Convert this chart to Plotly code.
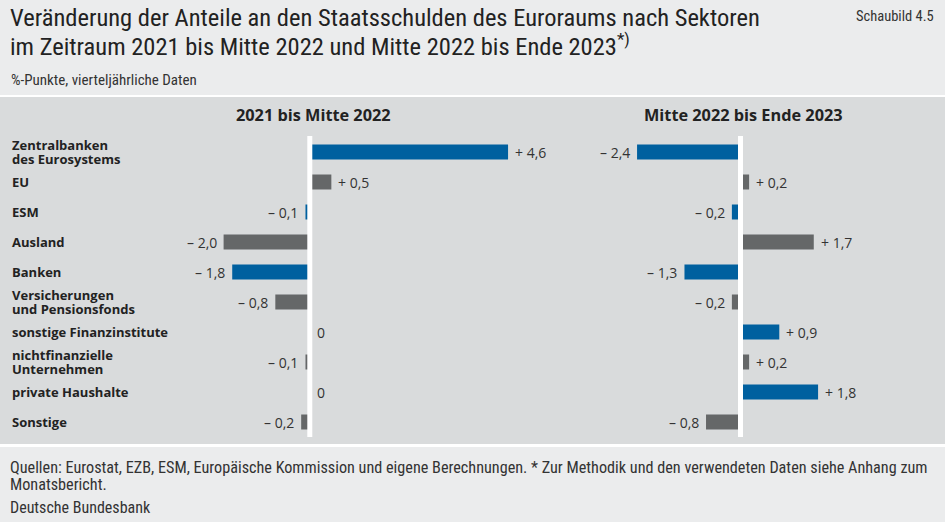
import plotly.graph_objects as go

# ---------------- data ----------------
categories = [
    "Zentralbanken<br>des Eurosystems",
    "EU",
    "ESM",
    "Ausland",
    "Banken",
    "Versicherungen<br>und Pensionsfonds",
    "sonstige Finanzinstitute",
    "nichtfinanzielle<br>Unternehmen",
    "private Haushalte",
    "Sonstige",
]
period1_values = [4.6, 0.5, -0.1, -2.0, -1.8, -0.8, 0.0, -0.1, 0.0, -0.2]
period2_values = [-2.4, 0.2, -0.2, 1.7, -1.3, -0.2, 0.9, 0.2, 1.8, -0.8]
panel_titles = ["2021 bis Mitte 2022", "Mitte 2022 bis Ende 2023"]

title_lines = ["Veränderung der Anteile an den Staatsschulden des Euroraums nach Sektoren",
               "im Zeitraum 2021 bis Mitte 2022 und Mitte 2022 bis Ende 2023<sup>*)</sup>"]
subtitle_text = "%-Punkte, vierteljährliche Daten"
figure_no = "Schaubild 4.5"
source_lines = ["Quellen: Eurostat, EZB, ESM, Europäische Kommission und eigene Berechnungen. "
                "* Zur Methodik und den verwendeten Daten siehe Anhang zum",
                "Monatsbericht."]
publisher = "Deutsche Bundesbank"

# ---------------- style ----------------
W, H = 945, 522
BLUE = "#00609f"
GREY = "#656768"
BG = "#ebeced"
BAND = "#d9dbdc"
TXT = "#222222"
NARROW = "Liberation Sans Narrow, Roboto Condensed, Roboto, sans-serif"
BODY = "Open Sans, Noto Sans, sans-serif"

bar_colors = [BLUE if i % 2 == 0 else GREY for i in range(len(categories))]

def fx(p):
    return p / W

def fy(p):
    return 1 - p / H

SCALE = 43.1          # pixels per percentage point
ZERO1, ZERO2 = 309.8, 740.5
SPLIT = 560
ROW_TOP, ROW_BOTTOM = 137, 437

def fmt(v):
    if v == 0:
        return "0"
    s = f"{abs(v):.1f}".replace(".", ",")
    return ("+ " if v > 0 else "\u2013 ") + s

fig = go.Figure()
for vals, xa in [(period1_values, "x"), (period2_values, "x2")]:
    fig.add_trace(go.Bar(
        y=categories, x=vals, orientation="h", xaxis=xa, yaxis="y",
        marker=dict(color=bar_colors, line=dict(width=0)),
        width=0.5, hoverinfo="skip", showlegend=False,
    ))

annotations = []
# value labels
for vals, xref in [(period1_values, "x"), (period2_values, "x2")]:
    for cat, v in zip(categories, vals):
        neg = v < 0
        annotations.append(dict(
            x=v, y=cat, xref=xref, yref="y", text=fmt(v), showarrow=False,
            xanchor="right" if neg else "left", xshift=-5 if neg else 5,
            font=dict(family=BODY, size=14, color="#333333"),
        ))
# category labels (left aligned, tight line spacing)
for cat in categories:
    lines = cat.split("<br>")
    n = len(lines)
    for k, line in enumerate(lines):
        annotations.append(dict(
            x=fx(10), y=cat, xref="paper", yref="y", text=line, showarrow=False,
            xanchor="left", yanchor="middle", yshift=(n - 1) * 7 - k * 14,
            font=dict(family=BODY, size=13, color=TXT, weight="bold"),
        ))
# panel titles
for t, cx in zip(panel_titles, [313, 743]):
    annotations.append(dict(
        x=fx(cx), y=fy(115), xref="paper", yref="paper", text=t, showarrow=False,
        xanchor="center", yanchor="middle",
        font=dict(family=BODY, size=16.3, color=TXT, weight="bold"),
    ))
# header / footer texts
for k, line in enumerate(title_lines):
    annotations.append(dict(
        x=fx(8), y=fy(18 + 27 * k), xref="paper", yref="paper", text=line, showarrow=False,
        xanchor="left", yanchor="middle", font=dict(family=NARROW, size=24.5, color=TXT)))
for k, line in enumerate(source_lines):
    annotations.append(dict(
        x=fx(8), y=fy(467 + 17 * k), xref="paper", yref="paper", text=line, showarrow=False,
        xanchor="left", yanchor="middle", font=dict(family=NARROW, size=16.2, color="#333333")))
annotations += [
    dict(x=fx(936), y=fy(16), xref="paper", yref="paper", text=figure_no, showarrow=False,
         xanchor="right", yanchor="middle", font=dict(family=NARROW, size=14.5, color="#333333")),
    dict(x=fx(9), y=fy(80), xref="paper", yref="paper", text=subtitle_text, showarrow=False,
         xanchor="left", yanchor="middle", font=dict(family=NARROW, size=15, color="#333333")),
    dict(x=fx(8), y=fy(507), xref="paper", yref="paper", text=publisher, showarrow=False,
         xanchor="left", yanchor="middle", font=dict(family=NARROW, size=16, color="#333333")),
]

shapes = [
    dict(type="rect", xref="paper", yref="paper", x0=0, x1=1, y0=fy(444), y1=fy(97),
         fillcolor=BAND, line=dict(width=0), layer="below"),
    dict(type="rect", xref="paper", yref="paper", x0=0, x1=1, y0=fy(97), y1=fy(95),
         fillcolor="white", line=dict(width=0), layer="below"),
    dict(type="rect", xref="paper", yref="paper", x0=0, x1=1, y0=fy(447), y1=fy(444),
         fillcolor="white", line=dict(width=0), layer="below"),
    dict(type="line", xref="x", yref="paper", x0=0, x1=0, y0=fy(437), y1=fy(136),
         line=dict(color="white", width=5)),
    dict(type="line", xref="x2", yref="paper", x0=0, x1=0, y0=fy(437), y1=fy(136),
         line=dict(color="white", width=5)),
]

hidden = dict(showgrid=False, zeroline=False, showticklabels=False, showline=False,
              ticks="", fixedrange=True)
fig.update_layout(
    width=W, height=H, margin=dict(l=0, r=0, t=0, b=0),
    paper_bgcolor=BG, plot_bgcolor="rgba(0,0,0,0)",
    xaxis=dict(domain=[0, fx(SPLIT)], range=[-ZERO1 / SCALE, (SPLIT - ZERO1) / SCALE],
               anchor="y", **hidden),
    xaxis2=dict(domain=[fx(SPLIT), 1], range=[-(ZERO2 - SPLIT) / SCALE, (W - ZERO2) / SCALE],
                anchor="y", **hidden),
    yaxis=dict(domain=[fy(ROW_BOTTOM), fy(ROW_TOP)], type="category",
               categoryorder="array", categoryarray=categories,
               range=[len(categories) - 0.5, -0.5], anchor="x", **hidden),
    annotations=annotations, shapes=shapes, bargap=0.5,
)

fig.write_html("out.html", config={"displayModeBar": False},
               post_script="document.body.style.margin='0';document.body.style.background='%s';" % BG)
